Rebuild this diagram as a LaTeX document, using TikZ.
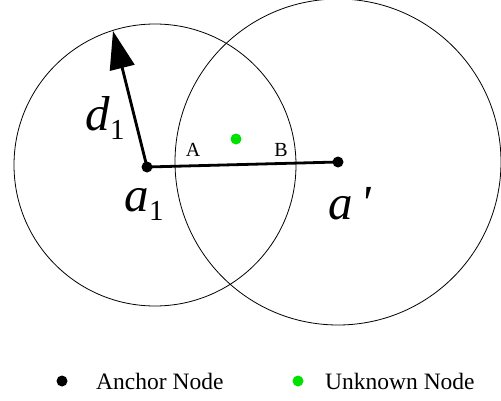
\documentclass[tikz,border=0pt]{standalone}
\usepackage{fontspec}
\setmainfont{Liberation Serif}
\usetikzlibrary{arrows.meta}

\definecolor{unkgreen}{RGB}{0,225,0}

% big italic label with a lowered index
\newcommand{\biglab}[2]{\fontsize{49pt}{49pt}\selectfont\textit{#1}\raisebox{-9pt}{\fontsize{29pt}{29pt}\selectfont #2}}

\tikzset{
  anchordot/.style={circle,fill=black,inner sep=0pt,minimum size=11pt},
  unkdot/.style={circle,fill=unkgreen,inner sep=0pt,minimum size=11pt},
  rangecircle/.style={draw=black,line width=0.8pt},
  smalllab/.style={font=\fontsize{20pt}{20pt}\selectfont,inner sep=0pt},
  legendtext/.style={font=\fontsize{23.5pt}{24pt}\selectfont,anchor=west,inner sep=0pt}
}

\begin{document}
\begin{tikzpicture}[x=1pt,y=1pt]
\useasboundingbox (0,0) rectangle (501,400);

% --- Range circles ---
\draw[rangecircle] (155,235) circle (141);
\draw[rangecircle] (338,238) circle (163);

% --- Anchors and unknown node ---
\node[anchordot] (a1) at (147,233) {};
\node[anchordot] (ap) at (338,238) {};
\node[unkdot] (x) at (236,261) {};
\coordinate (d1tip) at (113,369);

\draw[line width=2.8pt] (a1.center) -- (ap.center);
\draw[line width=2.8pt,-{Triangle[length=38pt,width=25pt]}] (a1.center) -- (d1tip);

\node (labd) at (105,282) {\biglab{d}{1}};
\node (laba) at (144,196) {\biglab{a}{1}};
\node (labap) at (350,196) {\fontsize{49pt}{49pt}\selectfont\textit{a\,\textquotesingle}};
\node[smalllab] (labA) at (193,250) {A};
\node[smalllab] (labB) at (281,250) {B};

% --- Legend ---
\node[anchordot] (leg1) at (62,19) {};
\node[legendtext] (leg1t) at (96,19) {Anchor Node};
\node[unkdot] (leg2) at (298,19) {};
\node[legendtext] (leg2t) at (325,19) {Unknown Node};

\end{tikzpicture}
\end{document}
